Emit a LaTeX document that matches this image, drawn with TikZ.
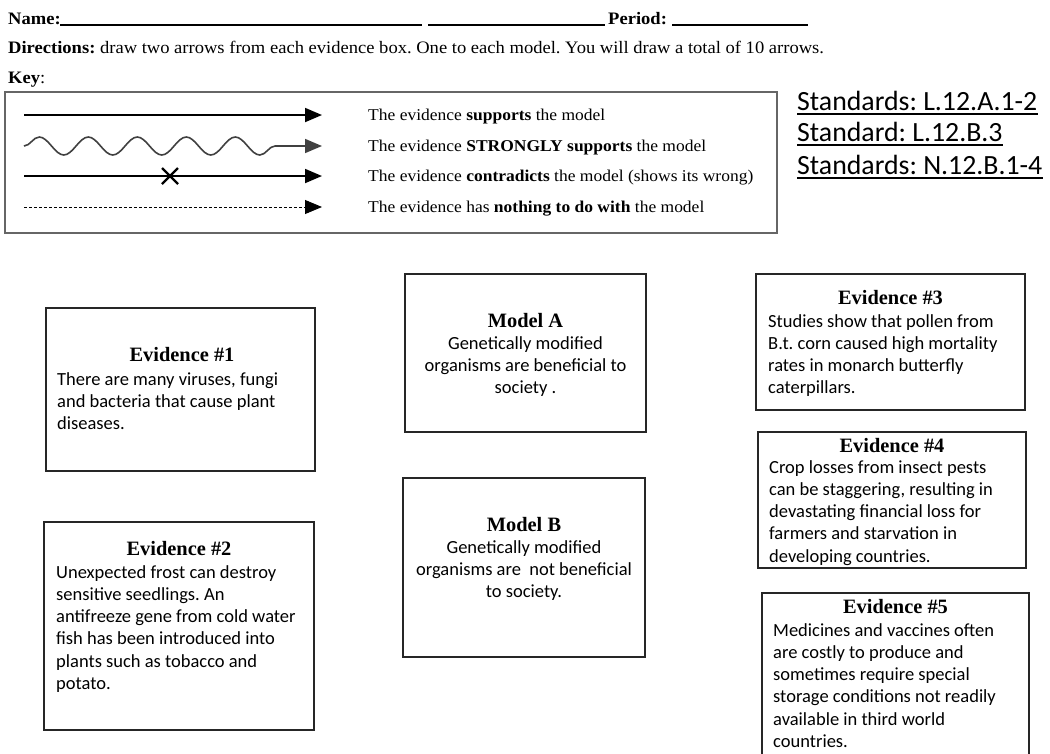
\documentclass[tikz,border=0pt]{standalone}
\usepackage{fontspec}
\setmainfont{Liberation Serif}
\newfontfamily\serifw{Liberation Serif}[FakeStretch=1.06]
\newfontfamily\bodyfont{Carlito}
\usetikzlibrary{arrows.meta,decorations.pathmorphing}
\frenchspacing
\begin{document}
\begin{tikzpicture}[x=1pt,y=-1pt,
  box/.style={draw=black!85,line width=1.6pt,inner sep=0pt},
  keybox/.style={draw=black!60,line width=1.3pt,inner sep=0pt},
  ttl/.style={anchor=base,inner sep=0pt,font=\fontsize{20.4}{24}\selectfont\bfseries},
  body/.style={anchor=base west,inner sep=0pt,font=\bodyfont\fontsize{18.5}{22.3}\selectfont},
  bodyc/.style={anchor=base,inner sep=0pt,font=\bodyfont\fontsize{18.5}{22.3}\selectfont},
  hdr/.style={anchor=base west,inner sep=0pt,font=\serifw\fontsize{17.5}{21}\selectfont},
  keytxt/.style={anchor=base west,inner sep=0pt,font=\serifw\fontsize{16.5}{20}\selectfont},
  std/.style={anchor=base west,inner sep=0pt,font=\bodyfont\fontsize{27.8}{32}\selectfont},
  ul/.style={line width=1.1pt},
  keyarrow/.style={line width=1.8pt,-{Triangle[length=17pt,width=14pt]}},
]
\useasboundingbox (0,0) rectangle (1050,753);
\clip (0,0) rectangle (1050,753);

% header
\node[hdr,font=\serifw\fontsize{17.5}{21}\selectfont\bfseries] (name) at (8,24) {Name:};
\draw[ul] (60,25) -- (422,25);
\draw[ul] (428,25) -- (605,25);
\node[hdr,font=\serifw\fontsize{17.5}{21}\selectfont\bfseries] (period) at (608,24) {Period:};
\draw[ul] (672,25) -- (808,25);
\node[hdr] (dir) at (8,53) {\textbf{Directions:} draw two arrows from each evidence box. One to each model. You will draw a total of 10 arrows.};
\node[hdr] (key) at (8,83) {\textbf{Key}:};

% key box
\node[keybox,minimum width=772pt,minimum height=141pt] (keyb) at (391,162.5) {};
\coordinate (a1s) at (24,115); \coordinate (a1e) at (322,115);
\coordinate (a2s) at (24,146); \coordinate (a2m) at (296,146); \coordinate (a2e) at (322,146);
\coordinate (a3s) at (24,176); \coordinate (a3e) at (322,176);
\coordinate (a4s) at (24,207); \coordinate (a4e) at (322,207);
\coordinate (xc) at (170,176);
\draw[keyarrow] (a1s) -- (a1e);
\draw[line width=1.6pt,draw=black!75,-{Triangle[length=17pt,width=14pt]}] (a2s) decorate[decoration={snake,segment length=49pt,amplitude=9pt}] {-- (a2m)} -- (a2e);
\draw[keyarrow] (a3s) -- (a3e);
\draw[line width=2.2pt] ([xshift=-8pt,yshift=8pt]xc) -- ([xshift=8pt,yshift=-8pt]xc)
  ([xshift=-8pt,yshift=-8pt]xc) -- ([xshift=8pt,yshift=8pt]xc);
\draw[line width=0.9pt,dash pattern=on 3pt off 2pt,-{Triangle[length=17pt,width=14pt]}] (a4s) -- (a4e);
\node[keytxt] (k1) at (368,120) {The evidence \textbf{supports} the model};
\node[keytxt] (k2) at (368,151) {The evidence \textbf{STRONGLY supports} the model};
\node[keytxt] (k3) at (368,181) {The evidence \textbf{contradicts} the model (shows its wrong)};
\node[keytxt] (k4) at (368,212) {The evidence has \textbf{nothing to do with} the model};

% standards
\node[std] (s1) at (797,110) {Standards: L.12.A.1-2};
\node[std] (s2) at (797,141) {Standard: L.12.B.3};
\node[std] (s3) at (797,174) {Standards: N.12.B.1-4};
\foreach \s in {s1,s2,s3}{\draw[ul] ([yshift=-4pt]\s.base west) -- ([yshift=-4pt]\s.base east);}

% evidence 1
\node[box,minimum width=269pt,minimum height=163pt] (ev1) at (180.5,389.5) {};
\node[ttl] (ev1h) at (182,361) {Evidence \#1};
\node[body] (ev1t) at (57,385) {\parbox[t]{255pt}{\raggedright There are many viruses, fungi\\and bacteria that cause plant\\diseases.}};

% evidence 2
\node[box,minimum width=270pt,minimum height=208pt] (ev2) at (179,626) {};
\node[ttl] (ev2h) at (179,555) {Evidence \#2};
\node[body] (ev2t) at (56,578) {\parbox[t]{255pt}{\raggedright Unexpected frost can destroy\\sensitive seedlings. An\\antifreeze gene from cold water\\fish has been introduced into\\plants such as tobacco and\\potato.}};

% model A
\node[box,minimum width=241pt,minimum height=158pt] (ma) at (525.5,353) {};
\node[ttl] (mah) at (525.5,327) {Model A};
\node[bodyc] (mat) at (525.5,349) {\parbox[t]{235pt}{\centering Genetically modified\\organisms are beneficial to\\society .}};

% model B
\node[box,minimum width=242pt,minimum height=179pt] (mb) at (524,567.5) {};
\node[ttl] (mbh) at (524,531) {Model B};
\node[bodyc] (mbt) at (524,553) {\parbox[t]{235pt}{\centering Genetically modified\\organisms are\ \ not beneficial\\to society.}};

% evidence 3
\node[box,minimum width=269pt,minimum height=136pt] (ev3) at (890.5,342) {};
\node[ttl] (ev3h) at (890.5,304) {Evidence \#3};
\node[body] (ev3t) at (768,327) {\parbox[t]{255pt}{\raggedright Studies show that pollen from\\B.t. corn caused high mortality\\rates in monarch butterfly\\caterpillars.}};

% evidence 4
\node[box,minimum width=268pt,minimum height=136pt] (ev4) at (892,500) {};
\node[ttl] (ev4h) at (892,452) {Evidence \#4};
\node[body] (ev4t) at (769,473) {\parbox[t]{255pt}{\raggedright Crop losses from insect pests\\can be staggering, resulting in\\devastating financial loss for\\farmers and starvation in\\developing countries.}};

% evidence 5
\node[box,minimum width=267pt,minimum height=180pt] (ev5) at (895.5,683) {};
\node[ttl] (ev5h) at (895.5,613) {Evidence \#5};
\node[body] (ev5t) at (773,636) {\parbox[t]{255pt}{\raggedright Medicines and vaccines often\\are costly to produce and\\sometimes require special\\storage conditions not readily\\available in third world\\countries.}};
\end{tikzpicture}
\end{document}
